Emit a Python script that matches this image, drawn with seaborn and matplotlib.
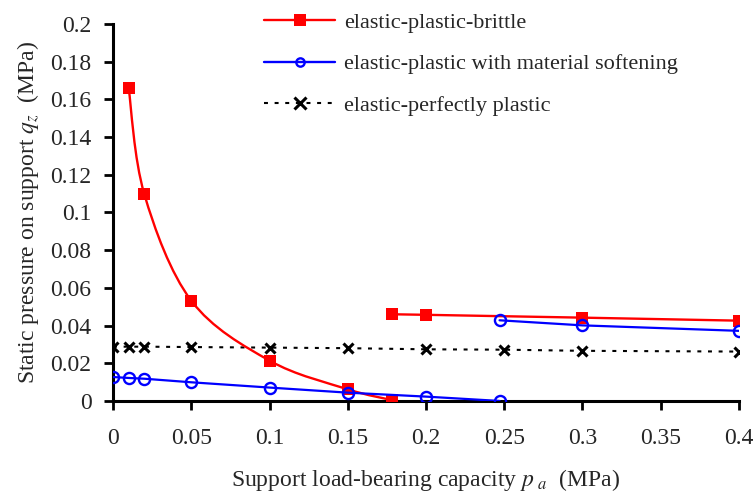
import numpy as np
import pandas as pd
import seaborn as sns
import matplotlib.pyplot as plt
from matplotlib.path import Path
from matplotlib.patches import PathPatch
from matplotlib.lines import Line2D
from matplotlib.ticker import FuncFormatter, MultipleLocator

# elastic-plastic-brittle (two branches)
brittle_x1 = [0.01, 0.02, 0.05, 0.10, 0.15, 0.178]
brittle_y1 = [0.1659, 0.1097, 0.0532, 0.0214, 0.0062, 0.0005]
brittle_x2 = [0.178, 0.20, 0.30, 0.40]
brittle_y2 = [0.0460, 0.0457, 0.0442, 0.0426]

# elastic-plastic with material softening (two branches)
soft_x1 = [0.0, 0.01, 0.02, 0.05, 0.10, 0.15, 0.20, 0.247]
soft_y1 = [0.0127, 0.0122, 0.0118, 0.0099, 0.0071, 0.0044, 0.0023, 0.0]
soft_x2 = [0.247, 0.30, 0.40]
soft_y2 = [0.0428, 0.0401, 0.0372]

# elastic-perfectly plastic
perf_x = [0.0, 0.01, 0.02, 0.05, 0.10, 0.15, 0.20, 0.25, 0.30, 0.40]
perf_y = [0.0288, 0.0288, 0.0288, 0.0286, 0.0283, 0.0280, 0.0274, 0.0272, 0.0266, 0.0262]

labels = ["elastic-plastic-brittle",
          "elastic-plastic with material softening",
          "elastic-perfectly plastic"]

RED = "#ff0000"
BLUE = "#0000ff"
DOTS = (0, (1.9, 3.2))


def smooth_path(xs, ys):
    # Excel-style smoothed line: cubic Bezier segments through the points
    pts = np.column_stack([xs, ys])
    n = len(pts)
    verts = [pts[0]]
    codes = [Path.MOVETO]
    for i in range(n - 1):
        p0 = pts[i - 1] if i > 0 else pts[i]
        p1 = pts[i]
        p2 = pts[i + 1]
        p3 = pts[i + 2] if i + 2 < n else pts[i + 1]
        c1 = p1 + (p2 - p0) / 6.0
        c2 = p2 - (p3 - p1) / 6.0
        verts += [c1, c2, p2]
        codes += [Path.CURVE4] * 3
    return Path(verts, codes)


sns.set_style("ticks")
plt.rcParams['font.family'] = ['Liberation Serif', 'DejaVu Serif']
plt.rcParams['mathtext.fontset'] = 'stix'

fig = plt.figure(figsize=(7.56, 4.95), dpi=100)
ax = fig.add_axes([0.1495, 0.19, 0.828, 0.7615])

# black dotted line
sns.lineplot(x=perf_x, y=perf_y, ax=ax, color="black", lw=1.5,
             linestyle=DOTS, marker="x", markersize=7.5,
             markeredgewidth=2.2, markeredgecolor="black", zorder=2)

# red smoothed branch
ax.add_patch(PathPatch(smooth_path(brittle_x1, brittle_y1), fill=False,
                       edgecolor=RED, lw=1.7, zorder=3))
sns.scatterplot(x=brittle_x1, y=brittle_y1, ax=ax, color=RED, marker="s",
                s=78, edgecolor=RED, linewidth=0, zorder=4)
sns.lineplot(x=brittle_x2, y=brittle_y2, ax=ax, color=RED, lw=1.7,
             marker="s", markersize=8.8, markeredgewidth=0, zorder=3)

# blue branches
for xs, ys in [(soft_x1, soft_y1), (soft_x2, soft_y2)]:
    sns.lineplot(x=xs, y=ys, ax=ax, color=BLUE, lw=1.6, marker="o",
                 markersize=8, markerfacecolor="none",
                 markeredgecolor=BLUE, markeredgewidth=1.7, zorder=5)

ax.set_xlim(0, 0.4)
ax.set_ylim(0, 0.2)
ax.xaxis.set_major_locator(MultipleLocator(0.05))
ax.yaxis.set_major_locator(MultipleLocator(0.02))
fmt = FuncFormatter(lambda v, p: "%g" % round(v, 4))
ax.xaxis.set_major_formatter(fmt)
ax.yaxis.set_major_formatter(fmt)
ax.tick_params(axis="both", labelsize=17, width=2, length=6.5,
               color="black", direction="out")
ax.tick_params(axis="x", pad=13)
ax.tick_params(axis="y", pad=9)
sns.despine(ax=ax)
for side in ["left", "bottom"]:
    ax.spines[side].set_linewidth(2.2)
    ax.spines[side].set_color("black")

ax.set_xlabel(r"Support load-bearing capacity $p_{\ a}$  (MPa)",
              fontsize=17, labelpad=13)
ax.set_ylabel(r"Static pressure on support $q_z$  (MPa)",
              fontsize=17, labelpad=7)

handles = [
    Line2D([], [], color=RED, lw=1.7, marker="s", markersize=9,
           markeredgewidth=0),
    Line2D([], [], color=BLUE, lw=1.7, marker="o", markersize=6,
           markerfacecolor="none", markeredgewidth=1.7),
    Line2D([], [], color="black", lw=1.5, linestyle=DOTS,
           marker="x", markersize=8, markeredgewidth=2.2),
]
fig.legend(handles, labels, loc="upper left", bbox_to_anchor=(0.323, 1.016),
           frameon=False, fontsize=16, handlelength=3.2, handletextpad=0.4,
           labelspacing=0.95)

fig.savefig("out.png", dpi=100)
